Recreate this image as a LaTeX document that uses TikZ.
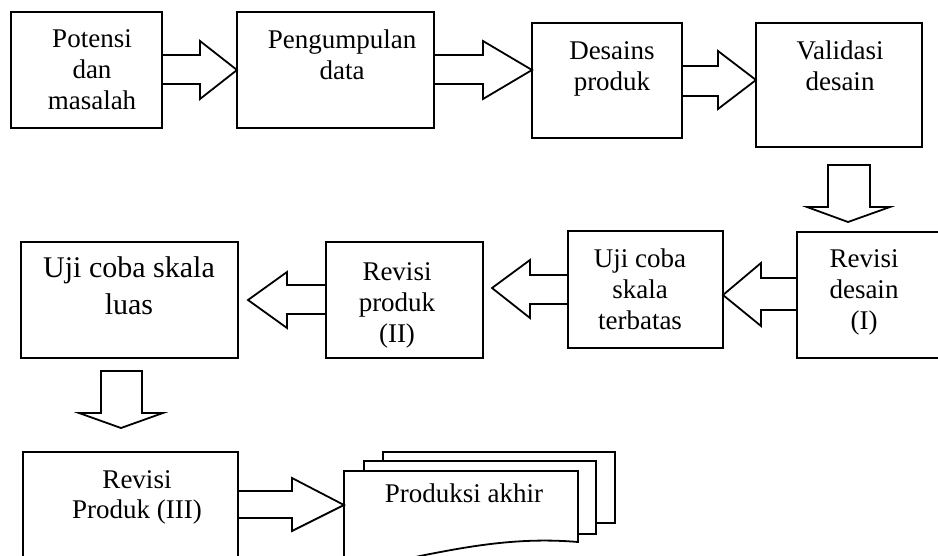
\documentclass[tikz,border=0pt]{standalone}
\usepackage{fontspec}
\setmainfont{Liberation Serif}
\usetikzlibrary{calc}
\tikzset{
  box/.style={draw, line width=1.8pt, rectangle, inner sep=0pt, outer sep=0pt, anchor=north west},
  lbl/.style={align=center, inner sep=0pt, anchor=base, font=\fontsize{27}{31}\selectfont},
  biglbl/.style={align=center, inner sep=0pt, anchor=base, font=\fontsize{30}{37}\selectfont},
  blk/.style={draw, line width=1.8pt, line join=miter},
  doc/.style={draw, fill=white, line width=1.8pt, line join=miter},
}
\begin{document}
\begin{tikzpicture}[x=1pt, y=-1pt]
\clip (0,0) rectangle (938,556);
\fill[white] (0,0) rectangle (938,556);

% boxes
\node[box, minimum width=151pt, minimum height=116pt] (b1) at (11,12) {};
\node[box, minimum width=197pt, minimum height=116pt] (b2) at (237,12) {};
\node[box, minimum width=150pt, minimum height=115pt] (b3) at (532,23) {};
\node[box, minimum width=166pt, minimum height=124pt] (b4) at (756,23) {};
\node[box, minimum width=160pt, minimum height=126pt] (b5) at (797,232) {};
\node[box, minimum width=155pt, minimum height=117pt] (b6) at (568,231) {};
\node[box, minimum width=157pt, minimum height=116pt] (b7) at (326,242) {};
\node[box, minimum width=217pt, minimum height=116pt] (b8) at (21,242) {};
\node[box, minimum width=215pt, minimum height=120pt] (b9) at (23,452) {};

% labels (anchor = baseline of the last line)
\node[lbl] (t1) at (92,110) {Potensi\\dan\\masalah};
\node[lbl] (t2) at (342,80) {Pengumpulan\\data};
\node[lbl] (t3) at (612,91) {Desains\\produk};
\node[lbl] (t4) at (840,91) {Validasi\\desain};
\node[lbl] (t5) at (864,330) {Revisi\\desain\\(I)};
\node[lbl] (t6) at (640,330) {Uji coba\\skala\\terbatas};
\node[lbl] (t7) at (397,342) {Revisi\\produk\\(II)};
\node[biglbl] (t8) at (129,315) {Uji coba skala\\luas};
\node[lbl, font=\fontsize{27}{30}\selectfont] (t9) at (137,518) {Revisi\\Produk (III)};

% multidocument
\draw[doc] (383,452) -- (615,452) -- (615,523) -- (383,523) -- cycle;
\draw[doc] (364,461) -- (596,461) -- (596,534) -- (364,534) -- cycle;
\draw[doc] (344,562) -- (344,471) -- (578,471) -- (578,542)
  .. controls (520,537) and (470,546) .. (420,556)
  .. controls (395,562) and (365,564) .. (344,562) -- cycle;
\coordinate (d1w) at (344,505);
\node[lbl] (t10) at (464,502) {Produksi akhir};

% block arrows
\draw[blk] (b1.east |- 0,55) -- (200,55) -- (200,41) -- (b2.west |- 0,70)
  -- (200,99) -- (200,84) -- (b1.east |- 0,84);
\draw[blk] (b2.east |- 0,55) -- (483,55) -- (483,41) -- (b3.west |- 0,70)
  -- (483,99) -- (483,84) -- (b2.east |- 0,84);
\draw[blk] (b3.east |- 0,66) -- (718,66) -- (718,51) -- (b4.west |- 0,80)
  -- (718,109) -- (718,96) -- (b3.east |- 0,96);
\draw[blk] (828,165) -- (870,165) -- (870,207) -- (890,207) -- (848,222)
  -- (807,207) -- (828,207) -- cycle;
\draw[blk] (b5.west |- 0,278) -- (761,278) -- (761,263) -- (b6.east |- 0,295)
  -- (761,326) -- (761,310) -- (b5.west |- 0,310);
\draw[blk] (b6.west |- 0,275) -- (530,275) -- (530,260) -- (492,288)
  -- (530,318) -- (530,304) -- (b6.west |- 0,304);
\draw[blk] (b7.west |- 0,285) -- (287,285) -- (287,272) -- (248,300)
  -- (287,328) -- (287,314) -- (b7.west |- 0,314);
\draw[blk] (101,371) -- (142,371) -- (142,413) -- (163,413) -- (121,428)
  -- (79,413) -- (101,413) -- cycle;
\draw[blk] (b9.east |- 0,491) -- (292,491) -- (292,478) -- (d1w)
  -- (292,531) -- (292,518) -- (b9.east |- 0,518);
\end{tikzpicture}
\end{document}
